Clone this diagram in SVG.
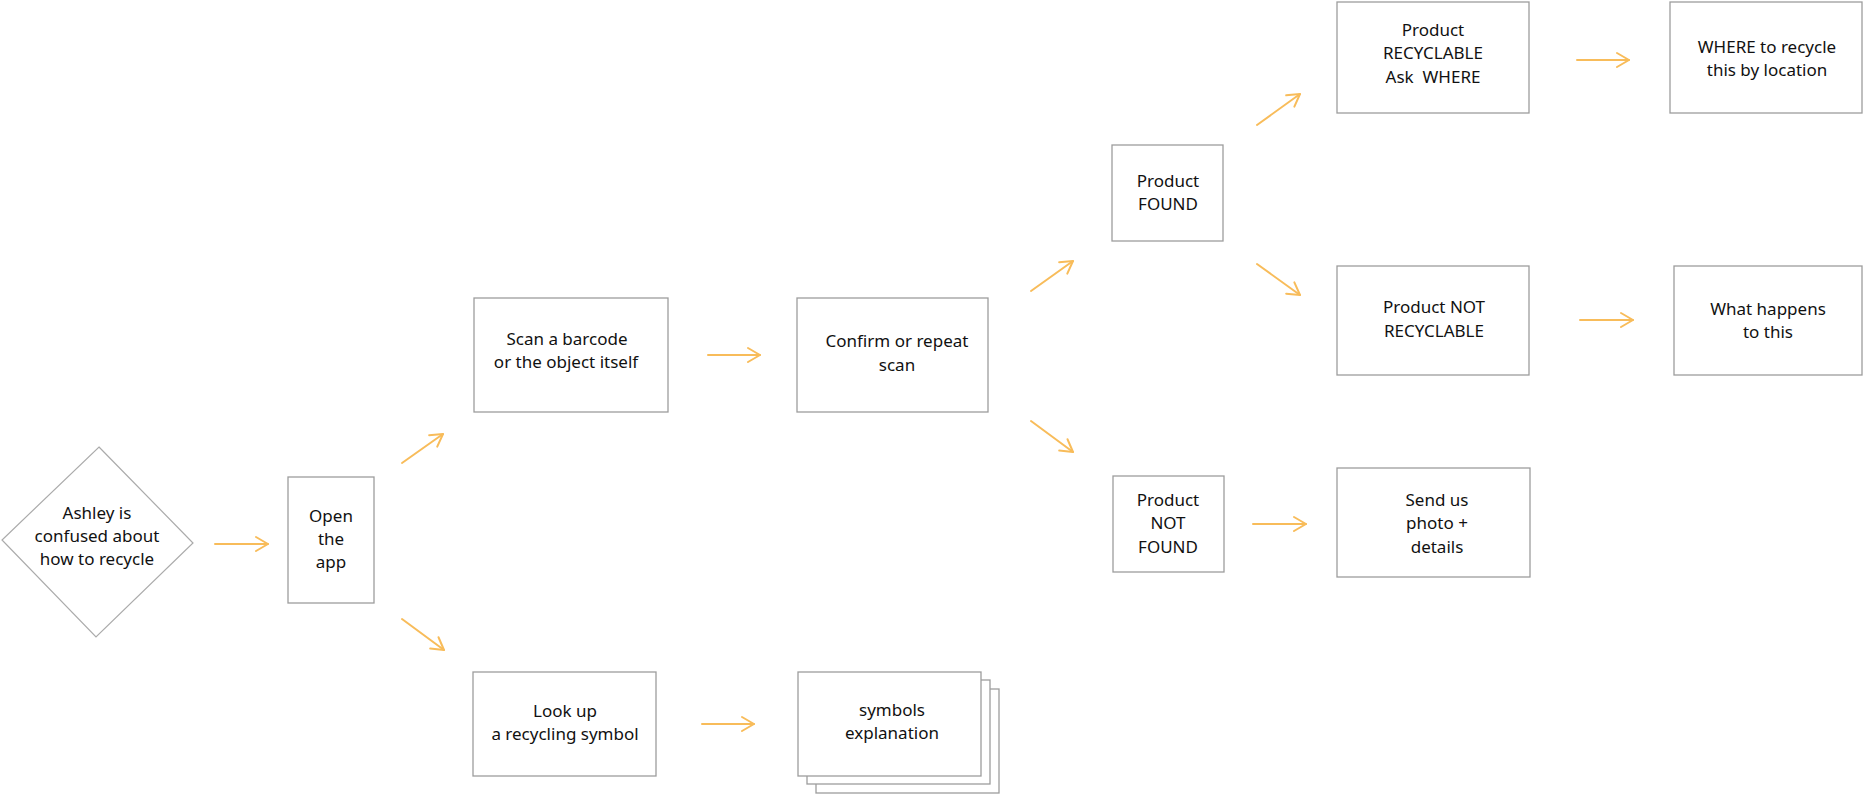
<svg xmlns="http://www.w3.org/2000/svg" width="1863" height="795" viewBox="0 0 1863 795">
<style>
.box{fill:#fff;stroke:#9d9d9d;stroke-width:1.3}
.dia{fill:#fff;stroke:#ababab;stroke-width:1.2}
.t{font-family:"Noto Sans","Lato",sans-serif;font-size:17px;fill:#111;text-anchor:middle}
.c{fill:none;stroke:#F8BC5A;stroke-width:2;stroke-linecap:round}
</style>
<defs>
<marker id="ah" markerUnits="userSpaceOnUse" markerWidth="30" markerHeight="30" viewBox="-15 -15 30 30" refX="0" refY="0" orient="auto">
<path d="M-12,-7 L0,0 L-12,7" fill="none" stroke="#F8BC5A" stroke-width="2" stroke-linecap="round" stroke-linejoin="round"/>
</marker>
</defs>
<rect width="1863" height="795" fill="#fff"/>
<g id="connectors">
<line class="c" x1="215" y1="544" x2="268" y2="544" marker-end="url(#ah)"/>
<line class="c" x1="402" y1="463" x2="443" y2="434" marker-end="url(#ah)"/>
<line class="c" x1="402" y1="619" x2="444" y2="650" marker-end="url(#ah)"/>
<line class="c" x1="708" y1="355" x2="760" y2="355" marker-end="url(#ah)"/>
<line class="c" x1="1031" y1="291" x2="1073" y2="261" marker-end="url(#ah)"/>
<line class="c" x1="1031" y1="421" x2="1073" y2="452" marker-end="url(#ah)"/>
<line class="c" x1="1257" y1="125" x2="1300" y2="94" marker-end="url(#ah)"/>
<line class="c" x1="1257" y1="264" x2="1300" y2="295" marker-end="url(#ah)"/>
<line class="c" x1="1253" y1="524" x2="1306" y2="524" marker-end="url(#ah)"/>
<line class="c" x1="1577" y1="60" x2="1629" y2="60" marker-end="url(#ah)"/>
<line class="c" x1="1580" y1="320" x2="1633" y2="320" marker-end="url(#ah)"/>
<line class="c" x1="702" y1="724" x2="754" y2="724" marker-end="url(#ah)"/>
</g>
<g id="ashley">
<polygon class="dia" points="99,447 193,543 96,637 2,540"/>
<text class="t" x="97" y="519">Ashley is</text>
<text class="t" x="97" y="542">confused about</text>
<text class="t" x="97" y="565">how to recycle</text>
</g>
<g id="open-app">
<rect class="box" x="288" y="477" width="86" height="126"/>
<text class="t" x="331" y="522">Open</text>
<text class="t" x="331" y="545">the</text>
<text class="t" x="331" y="568">app</text>
</g>
<g id="scan">
<rect class="box" x="474" y="298" width="194" height="114"/>
<text class="t" x="567" y="345">Scan a barcode</text>
<text class="t" x="566" y="368">or the object itself</text>
</g>
<g id="confirm">
<rect class="box" x="797" y="298" width="191" height="114"/>
<text class="t" x="897" y="347">Confirm or repeat</text>
<text class="t" x="897" y="371">scan</text>
</g>
<g id="found">
<rect class="box" x="1112" y="145" width="111" height="96"/>
<text class="t" x="1168" y="187">Product</text>
<text class="t" x="1168" y="210">FOUND</text>
</g>
<g id="not-found">
<rect class="box" x="1113" y="476" width="111" height="96"/>
<text class="t" x="1168" y="506">Product</text>
<text class="t" x="1168" y="529">NOT</text>
<text class="t" x="1168" y="553">FOUND</text>
</g>
<g id="recyclable">
<rect class="box" x="1337" y="2" width="192" height="111"/>
<text class="t" x="1433" y="36">Product</text>
<text class="t" x="1433" y="59">RECYCLABLE</text>
<text class="t" x="1433" y="83" xml:space="preserve">Ask  WHERE</text>
</g>
<g id="not-recyclable">
<rect class="box" x="1337" y="266" width="192" height="109"/>
<text class="t" x="1434" y="313">Product NOT</text>
<text class="t" x="1434" y="337">RECYCLABLE</text>
</g>
<g id="send-us">
<rect class="box" x="1337" y="468" width="193" height="109"/>
<text class="t" x="1437" y="506">Send us</text>
<text class="t" x="1437" y="529">photo +</text>
<text class="t" x="1437" y="553">details</text>
</g>
<g id="where">
<rect class="box" x="1670" y="2" width="192" height="111"/>
<text class="t" x="1767" y="53">WHERE to recycle</text>
<text class="t" x="1767" y="76">this by location</text>
</g>
<g id="what-happens">
<rect class="box" x="1674" y="266" width="188" height="109"/>
<text class="t" x="1768" y="315">What happens</text>
<text class="t" x="1768" y="338">to this</text>
</g>
<g id="look-up">
<rect class="box" x="473" y="672" width="183" height="104"/>
<text class="t" x="565" y="717">Look up</text>
<text class="t" x="565" y="740">a recycling symbol</text>
</g>
<g id="symbols">
<rect class="box" x="816" y="689" width="183" height="104"/>
<rect class="box" x="807" y="680" width="183" height="104"/>
<rect class="box" x="798" y="672" width="183" height="104"/>
<text class="t" x="892" y="716">symbols</text>
<text class="t" x="892" y="739">explanation</text>
</g>
</svg>
